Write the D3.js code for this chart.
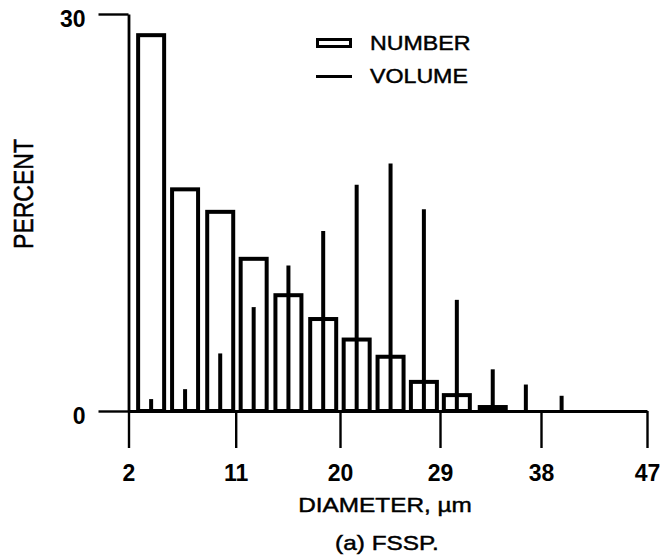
<!DOCTYPE html>
<html>
<head>
<meta charset="utf-8">
<script src="https://cdn.jsdelivr.net/npm/d3@7"></script>
<style>
  body { margin: 0; background: #fff; }
  svg { display: block; }
  text { font-family: "Liberation Sans", Arial, sans-serif; fill: #000; }
</style>
</head>
<body>
<div id="chart"></div>
<script>
// bin centres (µm)
const diameters = [3.9, 6.75, 9.7, 12.55, 15.55, 18.55, 21.5, 24.55, 27.55, 30.5, 33.7, 36.65, 39.75]
// percent by number (open bars), only the first 11 bins are non zero
const numberPct = [28.4, 16.75, 15.05, 11.5, 8.75, 6.95, 5.4, 4.1, 2.2, 1.2, 0.3]
// percent by volume (thin lines)
const volumePct = [0.9, 1.65, 4.35, 7.85, 11.0, 13.6, 17.1, 18.7, 15.25, 8.4, 3.15, 2.0, 1.15]
const xTicks = [2, 11, 20, 29, 38, 47]
const yTicks = [0, 30]

const W = 666, H = 560
const stretch = 1.16   // the scanned figure is a bit wider than tall

const svg = d3.select('#chart').append('svg')
    .attr('width', W).attr('height', H)

// the scan is slightly uneven, so the scale goes through each tick
const x = d3.scaleLinear()
    .domain(xTicks)
    .range([128.5, 235.7, 340, 440, 541, 647])
const y = d3.scaleLinear()
    .domain([0, 30])
    .range([411, 14])

function wideText(g, px, py, str, size, anchor, bold) {
    return g.append('text')
        .attr('transform', `translate(${px},${py}) scale(${stretch},1)`)
        .attr('text-anchor', anchor)
        .attr('font-size', size)
        .attr('font-weight', bold ? 'bold' : 'normal')
        .attr('stroke', '#000')
        .attr('stroke-width', 0.45)
        .text(str)
}

// axes
const yAxis = svg.append('g')
    .attr('transform', `translate(${x(2)},0)`)
    .call(d3.axisLeft(y).tickValues(yTicks).tickSize(30).tickSizeOuter(0).tickPadding(13))
const xAxis = svg.append('g')
    .attr('transform', `translate(0,${y(0)})`)
    .call(d3.axisBottom(x).tickValues(xTicks).tickFormat(d3.format('d'))
        .tickSize(37).tickSizeOuter(0).tickPadding(17))

for (const ax of [yAxis, xAxis]) {
    ax.select('.domain').attr('stroke', '#000').attr('stroke-width', 2.8)
    ax.selectAll('.tick line').attr('stroke', '#000').attr('stroke-width', 2.4)
    ax.selectAll('.tick text')
        .attr('font-family', '"Liberation Sans", Arial, sans-serif')
        .attr('font-size', 23)
        .attr('font-weight', 'bold')
        .attr('fill', '#000')
}
yAxis.selectAll('.tick text').attr('dy', '0.55em')

// number bars
const barW = 26
svg.append('g').selectAll('rect')
    .data(numberPct)
    .join('rect')
    .attr('x', (d, i) => x(diameters[i]) - barW / 2)
    .attr('y', d => y(d))
    .attr('width', barW)
    .attr('height', d => y(0) - y(d))
    .attr('fill', 'none')
    .attr('stroke', '#000')
    .attr('stroke-width', 4)

// volume lines
svg.append('g').selectAll('line')
    .data(volumePct)
    .join('line')
    .attr('x1', (d, i) => x(diameters[i]))
    .attr('x2', (d, i) => x(diameters[i]))
    .attr('y1', y(0))
    .attr('y2', d => y(d))
    .attr('stroke', '#000')
    .attr('stroke-width', 4)

// legend
const legend = svg.append('g')
legend.append('rect')
    .attr('x', 317.5).attr('y', 39.5)
    .attr('width', 33).attr('height', 7)
    .attr('fill', 'none').attr('stroke', '#000').attr('stroke-width', 3)
legend.append('line')
    .attr('x1', 316).attr('x2', 352)
    .attr('y1', 76.5).attr('y2', 76.5)
    .attr('stroke', '#000').attr('stroke-width', 3)
wideText(legend, 370, 49.5, 'NUMBER', 20, 'start')
wideText(legend, 370, 83, 'VOLUME', 20, 'start')

// titles
wideText(svg, 385, 512, 'DIAMETER, µm', 21, 'middle')
wideText(svg, 387, 550, '(a) FSSP.', 21, 'middle')

svg.append('text')
    .attr('transform', `translate(33,194) scale(1.19,1) rotate(-90)`)
    .attr('text-anchor', 'middle')
    .attr('font-size', 23)
    .attr('stroke', '#000')
    .attr('stroke-width', 0.45)
    .text('PERCENT')
</script>
</body>
</html>
